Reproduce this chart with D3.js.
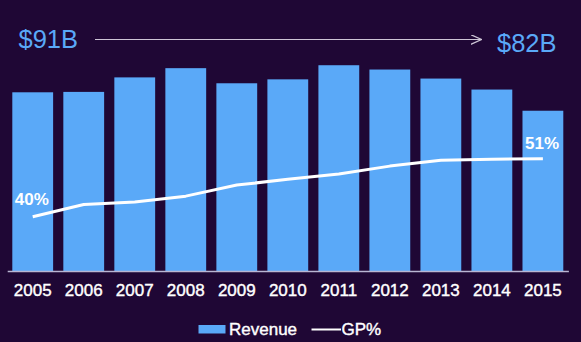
<!DOCTYPE html>
<html>
<head>
<meta charset="utf-8">
<script src="https://cdn.jsdelivr.net/npm/d3@7"></script>
<style>
  html, body { margin: 0; padding: 0; background: #1f0735; }
  #canvas { width: 581px; height: 342px; }
  text { font-family: "Liberation Sans", Arial, sans-serif; }
</style>
</head>
<body>
<div id="canvas" class="canvas"></div>
<script>
// data
var years = ['2005','2006','2007','2008','2009','2010','2011','2012','2013','2014','2015'];
var revenue = [91.1, 91.3, 98.7, 103.4, 95.7, 97.7, 104.9, 102.7, 98.1, 92.5, 81.7];
var gpPct = [40, 42.3, 42.8, 43.9, 46.0, 47.1, 48.1, 49.6, 50.7, 50.9, 51];
var startLabel = '$91B', endLabel = '$82B';
var firstPct = '40%', lastPct = '51%';

var W = 581, H = 342;
var blue = '#5aa9f8';

var svg = d3.select('.canvas')
    .append('svg')
    .attr('width', W)
    .attr('height', H);

svg.append('defs').append('marker')
    .attr('id', 'arr')
    .attr('viewBox', '0 0 11 10')
    .attr('refX', 11).attr('refY', 5)
    .attr('markerWidth', 11).attr('markerHeight', 10)
    .attr('markerUnits', 'userSpaceOnUse')
    .attr('orient', 'auto')
    .append('path')
    .attr('d', 'M0,0L11,5L0,10')
    .attr('fill', 'none')
    .attr('stroke', '#cdc5d6')
    .attr('stroke-width', 1.2);

var scaleX = d3.scaleBand()
    .domain(years)
    .range([7.2, 568.4])
    .paddingInner(0.2)
    .paddingOuter(0.1);

var scaleY = d3.scaleLinear()
    .domain([0, 120])
    .range([271, 35.6]);

var scaleP = d3.scaleLinear()
    .domain([20, 60])
    .range([322.1, 111.3]);

var rows = years.map(function(y, i) {
    return { year: y, rev: revenue[i], gp: gpPct[i] };
});

// bars
svg.selectAll('rect.bar')
    .data(rows)
    .enter()
    .append('rect')
    .attr('class', 'bar')
    .attr('x', function(d) { return scaleX(d.year); })
    .attr('width', scaleX.bandwidth())
    .attr('y', function(d) { return scaleY(d.rev); })
    .attr('height', function(d) { return scaleY(0) - scaleY(d.rev); })
    .attr('fill', blue);

// x axis
var axisX = d3.axisBottom(scaleX).tickSize(0).tickPadding(13);
var gx = svg.append('g')
    .attr('class', 'axis axis-x')
    .attr('transform', 'translate(0,271)')
    .call(axisX);
gx.select('.domain').attr('stroke', '#b9b5d2').attr('stroke-width', 1.5);
gx.selectAll('text')
    .attr('fill', '#fff')
    .style('font-size', '17px')
    .style('font-family', '"Liberation Sans", Arial, sans-serif')
    .attr('stroke', '#fff')
    .attr('stroke-width', 0.4);

// GP% line
var line = d3.line()
    .x(function(d) { return scaleX(d.year) + scaleX.bandwidth() / 2; })
    .y(function(d) { return scaleP(d.gp); });

svg.append('path')
    .datum(rows)
    .attr('d', line)
    .attr('fill', 'none')
    .attr('stroke', '#fff')
    .attr('stroke-width', 3)
    .attr('stroke-linejoin', 'round');

var first = rows[0], last = rows[rows.length - 1];
svg.append('text')
    .attr('x', scaleX(first.year) + 2.5)
    .attr('y', scaleP(first.gp) - 11.5)
    .attr('fill', '#fff')
    .style('font-size', '17px')
    .style('font-weight', 'bold')
    .text(firstPct);
svg.append('text')
    .attr('x', scaleX(last.year) + 2.5)
    .attr('y', scaleP(last.gp) - 9.5)
    .attr('fill', '#fff')
    .style('font-size', '17px')
    .style('font-weight', 'bold')
    .text(lastPct);

// headline revenue change
svg.append('text')
    .attr('x', 18.5).attr('y', 47.5)
    .attr('fill', blue)
    .style('font-size', '25.5px')
    .text(startLabel);
svg.append('text')
    .attr('x', 497).attr('y', 51.5)
    .attr('fill', blue)
    .style('font-size', '25.5px')
    .text(endLabel);
svg.append('line')
    .attr('x1', 95).attr('x2', 481.5)
    .attr('y1', 39.5).attr('y2', 39.5)
    .attr('stroke', '#cdc5d6')
    .attr('stroke-width', 1.2)
    .attr('marker-end', 'url(#arr)');

// legend
var lg = svg.append('g').attr('class', 'legend');
lg.append('rect')
    .attr('x', 198.5).attr('y', 325)
    .attr('width', 27).attr('height', 8.5)
    .attr('fill', blue);
lg.append('text')
    .attr('x', 229).attr('y', 334.5)
    .attr('fill', '#fff')
    .attr('stroke', '#fff').attr('stroke-width', 0.4)
    .style('font-size', '17px')
    .text('Revenue');
lg.append('line')
    .attr('x1', 311.5).attr('x2', 341)
    .attr('y1', 329.5).attr('y2', 329.5)
    .attr('stroke', '#fff')
    .attr('stroke-width', 2);
lg.append('text')
    .attr('x', 341.5).attr('y', 334.5)
    .attr('fill', '#fff')
    .attr('stroke', '#fff').attr('stroke-width', 0.4)
    .style('font-size', '17px')
    .text('GP%');
</script>
</body>
</html>
